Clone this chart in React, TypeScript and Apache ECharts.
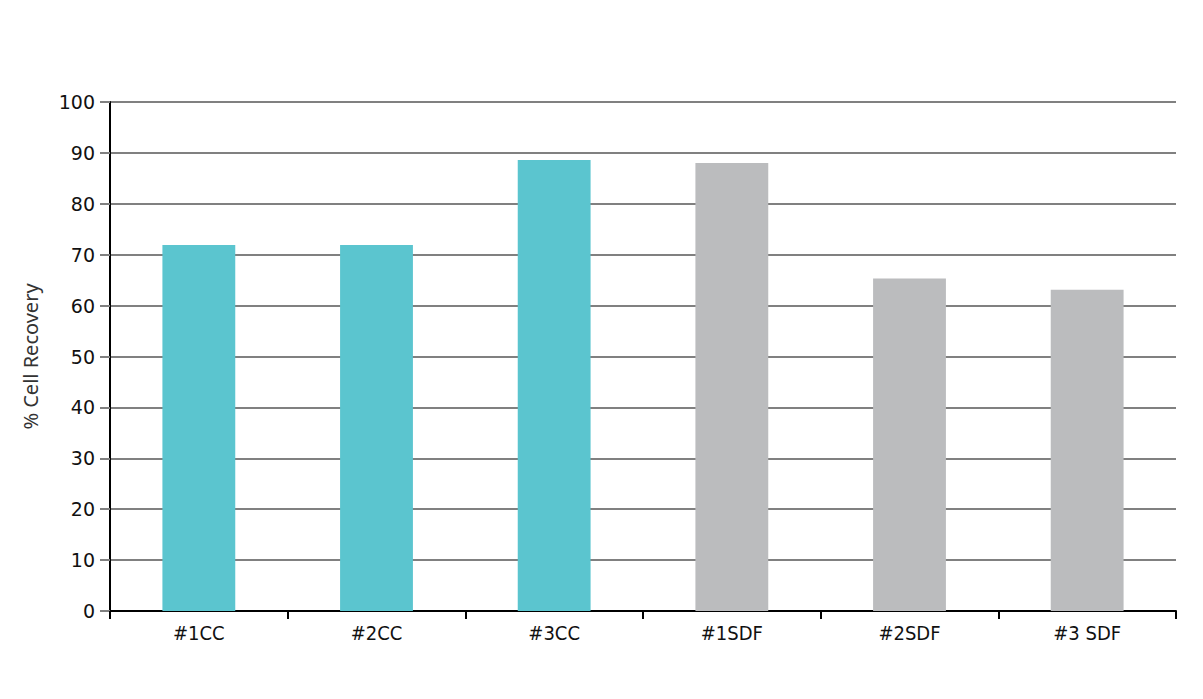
import React, { useEffect, useRef } from "react";
import * as echarts from "echarts";

const categories = ["#1CC", "#2CC", "#3CC", "#1SDF", "#2SDF", "#3 SDF"];
const recovery = [71.9, 71.9, 88.6, 88.0, 65.3, 63.1];
const barColors = ["#5BC5CF", "#5BC5CF", "#5BC5CF", "#BBBCBE", "#BBBCBE", "#BBBCBE"];
const yTicks = { min: 0, max: 100, interval: 10 };

export default function App() {
  const ref = useRef<HTMLDivElement>(null);
  useEffect(() => {
    const chart = echarts.init(ref.current!, null, { renderer: "svg" });
    chart.setOption({
      animation: false,
      grid: { left: 102, right: 19, top: 94, bottom: 80 },
      xAxis: {
        type: "category",
        data: categories,
        axisLine: { lineStyle: { color: "#000", width: 2 } },
        axisTick: { show: true, length: 8, lineStyle: { color: "#000", width: 2 } },
        axisLabel: {
          color: "#111",
          fontSize: 20,
          margin: 12,
          fontFamily: "'DejaVu Sans Condensed', 'Liberation Sans Narrow', 'DejaVu Sans', sans-serif",
        },
      },
      yAxis: {
        type: "value",
        min: yTicks.min,
        max: yTicks.max,
        interval: yTicks.interval,
        name: "% Cell Recovery",
        nameLocation: "middle",
        nameGap: 70,
        nameTextStyle: { color: "#333", fontSize: 20, fontFamily: "'Noto Sans', 'Open Sans', sans-serif" },
        axisLine: { show: true, lineStyle: { color: "#000", width: 2 } },
        axisTick: { show: true, length: 10, lineStyle: { color: "#808080", width: 2 } },
        axisLabel: {
          color: "#111",
          fontSize: 19,
          margin: 15,
          fontFamily: "'DejaVu Sans', Verdana, sans-serif",
        },
        splitLine: { lineStyle: { color: "#808080", width: 2 } },
      },
      series: [
        {
          type: "bar",
          data: recovery.map((v, i) => ({ value: v, itemStyle: { color: barColors[i] } })),
          barWidth: "41%",
        },
      ],
    });
    return () => chart.dispose();
  }, []);
  return <div ref={ref} style={{ width: 1187, height: 683 }} />;
}
